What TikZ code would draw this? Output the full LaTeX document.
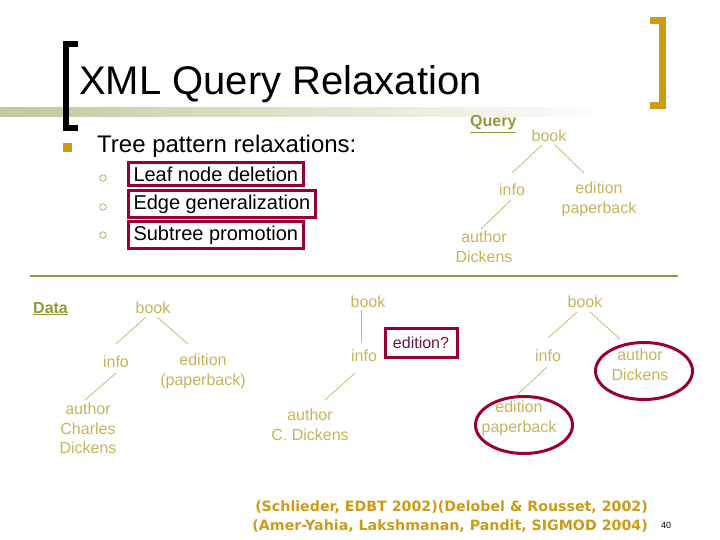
\documentclass[tikz,border=0pt]{standalone}
\usepackage{fontspec}
\setmainfont{Liberation Sans}
\newfontfamily\citefont{DejaVu Sans}
\usetikzlibrary{shapes.geometric}
\definecolor{gold}{RGB}{205,155,20}
\definecolor{olive}{RGB}{150,150,60}
\definecolor{treetext}{RGB}{196,180,92}
\definecolor{treeline}{RGB}{200,188,110}
\definecolor{boxred}{RGB}{153,0,51}
\definecolor{maroon}{RGB}{105,20,60}
\definecolor{barolive}{RGB}{198,198,160}
\tikzset{
  tlabel/.style={inner sep=0pt, align=center, text=treetext, font=\fontsize{16}{19.5}\selectfont},
  tedge/.style={draw=treeline, line width=0.8pt},
  redbox/.style={draw=boxred, line width=3pt, inner xsep=5.5pt, inner ysep=0pt, anchor=west, font=\fontsize{20}{24}\selectfont},
  ring/.style={draw=boxred, line width=3pt, ellipse, minimum width=97pt, minimum height=57pt, inner sep=0pt},
  headlabel/.style={inner sep=0pt, anchor=base west, text=olive, font=\fontsize{16}{19}\selectfont\bfseries},
  circbullet/.style={draw=olive, line width=0.6pt, circle, minimum size=6.5pt, inner sep=0pt},
}
\begin{document}
\begin{tikzpicture}[x=1pt,y=-1pt]
\useasboundingbox (0,0) rectangle (720,540);
% title bar
\shade[left color=barolive, right color=white] (0,108) rectangle (620,117);
\draw[line width=6pt, miter limit=10] (78,44) -- (66,44) -- (66,128) -- (78,128);
\draw[gold, line width=7pt, miter limit=10] (650,20.5) -- (662.5,20.5) -- (662.5,105.5) -- (650,105.5);
\node[inner sep=0pt, anchor=base west, font=\fontsize{40}{44}\selectfont] (title) at (79,95) {XML Query Relaxation};
% bullets
\node[fill=gold, minimum size=9pt, inner sep=0pt] (sq) at (67.5,147.5) {};
\node[inner sep=0pt, anchor=base west, font=\fontsize{24}{28}\selectfont] (tree) at (97,153) {Tree pattern relaxations:};
\node[circbullet] (c1) at (103,178) {};
\node[circbullet] (c2) at (103,207) {};
\node[circbullet] (c3) at (103,235) {};
\node[redbox, minimum height=23pt] (leaf) at (126.5,174) {Leaf node deletion};
\node[redbox, minimum height=27pt] (edge) at (126.5,204) {Edge generalization};
\node[redbox, minimum height=27pt] (sub) at (126.5,235) {Subtree promotion};
% query tree
\node[headlabel] (query) at (470,127) {\underline{Query}};
\node[tlabel] (qbook) at (549,136) {book};
\node[tlabel] (qinfo) at (512,190) {info};
\node[tlabel] (qedition) at (599,199.5) {edition\\paperback};
\node[tlabel] (qauthor) at (484,247) {author\\Dickens};
\draw[tedge] ([shift={(-7,9)}]qbook.center) -- ([shift={(0,-17)}]qinfo.center);
\draw[tedge] ([shift={(6,9)}]qbook.center) -- ([shift={(-15,-26.5)}]qedition.center);
\draw[tedge] ([shift={(-1,10)}]qinfo.center) -- ([shift={(-3,-18)}]qauthor.center);
% separator
\draw[olive, line width=1.2pt] (30,276) -- (678,276);
% data tree
\node[headlabel] (data) at (33,313) {\underline{Data}};
\node[tlabel] (dbook) at (153,308) {book};
\node[tlabel] (dinfo) at (116,362) {info};
\node[tlabel] (dedition) at (203,371.5) {edition\\(paperback)};
\node[tlabel] (dauthor) at (88,428.5) {author\\Charles\\Dickens};
\draw[tedge] ([shift={(-7,9)}]dbook.center) -- ([shift={(0,-18)}]dinfo.center);
\draw[tedge] ([shift={(4,9)}]dbook.center) -- ([shift={(-15,-27.5)}]dedition.center);
\draw[tedge] ([shift={(0,11)}]dinfo.center) -- ([shift={(-3,-28.5)}]dauthor.center);
% middle tree
\node[tlabel] (mbook) at (368,302) {book};
\node[tlabel] (minfo) at (364,356) {info};
\node[tlabel] (mauthor) at (310,425) {author\\C. Dickens};
\node[draw=boxred, line width=3pt, minimum width=72pt, minimum height=29pt, inner sep=0pt, text=maroon, font=\fontsize{16}{19}\selectfont] (medition) at (421,343) {edition?};
\draw[tedge] ([shift={(-7,8)}]mbook.center) -- ([shift={(-3,-14)}]minfo.center);
\draw[tedge] ([shift={(-9,17)}]minfo.center) -- ([shift={(15,-25)}]mauthor.center);
% right tree
\node[tlabel] (rbook) at (585,302) {book};
\node[tlabel] (rinfo) at (548,356) {info};
\node[tlabel] (rauthor) at (640,365) {author\\Dickens};
\node[tlabel] (redition) at (519,418.5) {edition\\paperback};
\node[ring] (rauthorring) at (644,371) {};
\node[ring] (reditionring) at (524,425) {};
\draw[tedge] ([shift={(-8,10)}]rbook.center) -- ([shift={(0,-18)}]rinfo.center);
\draw[tedge] ([shift={(5,10)}]rbook.center) -- ([shift={(-20,-26)}]rauthor.center);
\draw[tedge] ([shift={(-1,11)}]rinfo.center) -- ([shift={(-2,-23.5)}]redition.center);
% citations
\node[inner sep=0pt, anchor=east, align=right, text=gold, font=\citefont\fontsize{14.2}{19}\selectfont\bfseries] (cite) at (648,517) {(Schlieder, EDBT 2002)(Delobel \& Rousset, 2002)\\(Amer-Yahia, Lakshmanan, Pandit, SIGMOD 2004)};
\node[inner sep=0pt, font=\fontsize{9}{10}\selectfont] (page) at (666,525) {40};
\end{tikzpicture}
\end{document}
